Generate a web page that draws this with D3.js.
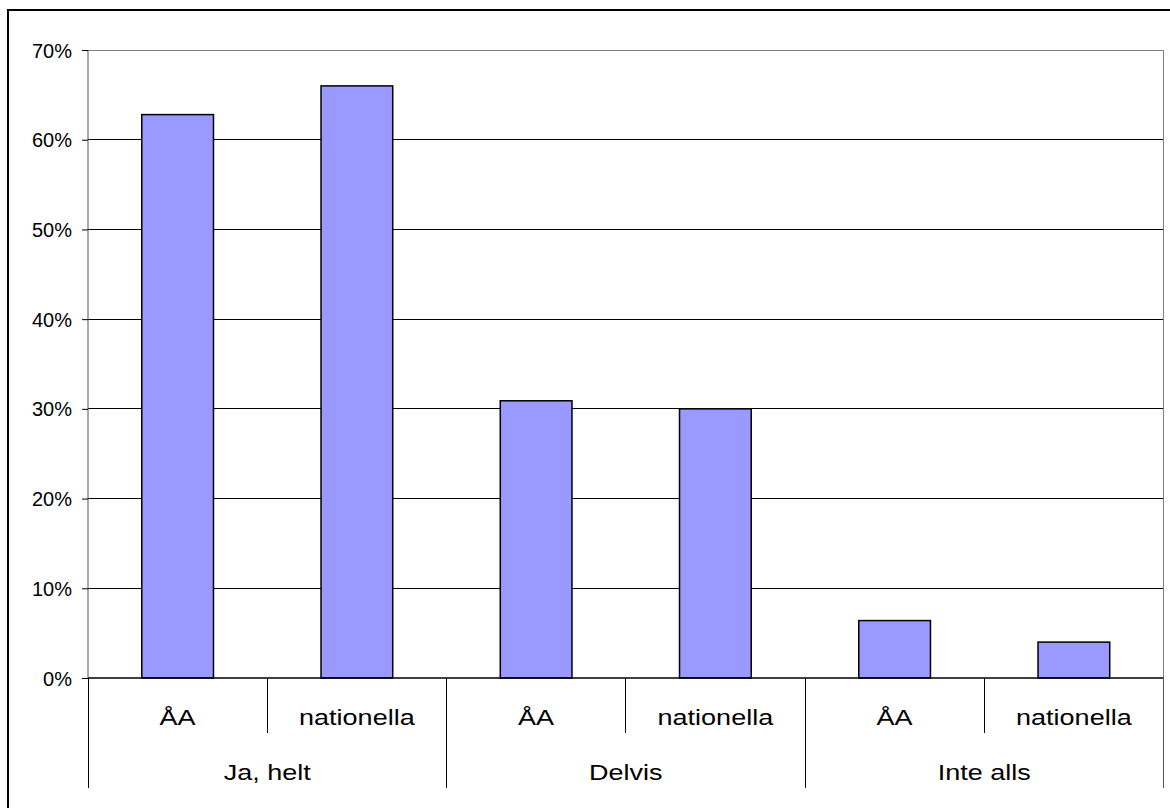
<!DOCTYPE html>
<html><head><meta charset="utf-8">
<script src="https://cdn.jsdelivr.net/npm/d3@7"></script>
<style>html,body{margin:0;padding:0;background:#fff;}svg{display:block;}</style>
</head><body>
<svg id="chart" width="1170" height="808"></svg>
<script>
const groups = ["Ja, helt", "Delvis", "Inte alls"];
const subs = ["ÅA", "nationella"];
const values = [62.8, 66.0, 30.9, 30.0, 6.4, 4.0];
const yTicks = [0, 10, 20, 30, 40, 50, 60, 70];

const svg = d3.select("#chart");
const L = 88, R = 1163.5, T = 50, B = 678;
const font = "Liberation Sans, Arial, sans-serif";

// outer frame
svg.append("rect").attr("x", 8).attr("y", 10).attr("width", 1200).attr("height", 900)
  .attr("fill", "none").attr("stroke", "#000").attr("stroke-width", 2);

const items = [];
groups.forEach((g, gi) => subs.forEach((s, si) => items.push({g, s, key: gi + "|" + si, v: values[gi * 2 + si]})));

const x = d3.scaleBand().domain(items.map(d => d.key)).range([L, R]).paddingInner(0).paddingOuter(0);
const y = d3.scaleLinear().domain([0, 70]).range([B, T]);

// gridlines
svg.append("g").selectAll("line").data(yTicks.filter(t => t > 0)).join("line")
  .attr("x1", L).attr("x2", R).attr("y1", d => y(d)).attr("y2", d => y(d))
  .attr("stroke", d => d === 70 ? "#808080" : "#000").attr("stroke-width", 1).attr("shape-rendering", "crispEdges");
// plot right border
svg.append("line").attr("x1", R).attr("x2", R).attr("y1", T).attr("y2", B)
  .attr("stroke", "#808080").attr("shape-rendering", "crispEdges");

// bars
const bw = x.bandwidth() * 0.4;
svg.append("g").selectAll("rect").data(items).join("rect")
  .attr("x", d => x(d.key) + (x.bandwidth() - bw) / 2)
  .attr("width", bw)
  .attr("y", d => y(d.v))
  .attr("height", d => y(0) - y(d.v))
  .attr("fill", "#9999ff").attr("stroke", "#000").attr("stroke-width", 1.5);

// y axis
const yAxis = d3.axisLeft(y).tickValues(yTicks).tickFormat(d => d + "%").tickSize(6).tickPadding(10);
const ga = svg.append("g").attr("transform", `translate(${L},0)`).call(yAxis);
ga.select(".domain").attr("stroke", "#555").attr("d", `M0,${T}V${B}`);
ga.selectAll(".tick line").attr("stroke", "#000");
ga.selectAll(".tick text").attr("font-family", font).attr("font-size", 20).attr("fill", "#000").attr("dy", "0.35em");

// x axis baseline
svg.append("line").attr("x1", L).attr("x2", R).attr("y1", B).attr("y2", B).attr("stroke", "#000").attr("stroke-width", 1.5);

// category separators
const xAxisG = svg.append("g");
items.forEach((d, i) => {
  const xs = x(d.key);
  const isGroupStart = i % 2 === 0;
  xAxisG.append("line").attr("x1", xs).attr("x2", xs).attr("y1", B).attr("y2", isGroupStart ? 788 : 733)
    .attr("stroke", "#000").attr("shape-rendering", "crispEdges");
});
xAxisG.append("line").attr("x1", R).attr("x2", R).attr("y1", B).attr("y2", 788).attr("stroke", "#555").attr("shape-rendering", "crispEdges");

// sub labels
svg.append("g").selectAll("text").data(items).join("text")
  .attr("transform", d => `translate(${x(d.key) + x.bandwidth() / 2},725) scale(1.2,1)`)
  .attr("text-anchor", "middle").attr("font-family", font).attr("font-size", 22.5).attr("fill", "#000")
  .text(d => d.s);
// group labels
svg.append("g").selectAll("text").data(groups).join("text")
  .attr("transform", (g, gi) => `translate(${x(gi + "|0") + x.bandwidth()},780) scale(1.2,1)`)
  .attr("text-anchor", "middle").attr("font-family", font).attr("font-size", 22.5).attr("fill", "#000")
  .text(d => d);
</script>
</body></html>
